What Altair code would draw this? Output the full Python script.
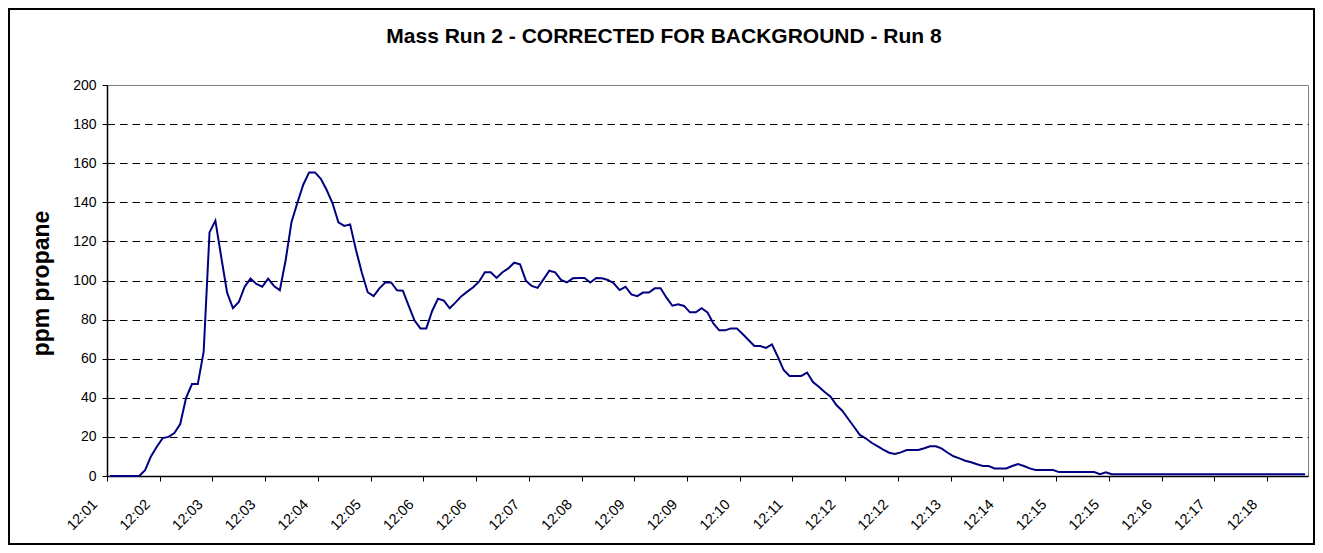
import altair as alt
import pandas as pd

# ppm propane, one reading per category (5 s apart)
ppm = [
    0, 0, 0, 0, 0, 0, 3, 10, 15, 19.4,
    20, 22, 26.6, 40, 47, 47, 63.6, 124.6, 130.6, 112,
    93.8, 85.8, 89, 96.8, 101, 98.2, 96.8, 101, 97.2, 95,
    110.5, 130, 139.8, 149, 155.3, 155.3, 152, 146.3, 139.5, 129.8,
    127.9, 128.7, 115.6, 104, 94, 92, 96, 99, 99, 95,
    94.8, 87, 79.5, 75.5, 75.5, 84.4, 90.7, 89.7, 85.8, 88.8,
    92, 94.3, 96.5, 99.4, 104.2, 104.2, 101.3, 104.2, 106.2, 109.1,
    108.3, 99.9, 97.2, 96.2, 100.6, 105, 104.2, 100.3, 99, 101.1,
    101.3, 101.3, 99, 101.3, 101.1, 100.3, 98.6, 95.1, 96.8, 92.9,
    92, 93.8, 93.8, 96, 96, 91.2, 87.1, 87.8, 87, 83.7,
    83.7, 85.8, 83.7, 78, 74.5, 74.5, 75.5, 75.5, 72.6, 69.6,
    66.5, 66.5, 65.5, 67.3, 61, 54.2, 51.2, 51.2, 51.2, 52.9,
    48.1, 45.7, 43, 40.6, 36.3, 33.4, 29.3, 25.2, 21, 19.3,
    17, 15.3, 13.5, 11.9, 11.3, 12.1, 13.3, 13.3, 13.3, 14.2,
    15.2, 15.2, 14, 11.9, 10.1, 9, 7.8, 7, 6, 5.1,
    5.1, 3.9, 3.9, 3.9, 5.1, 6.1, 5.1, 3.9, 3.1, 3.1,
    3.1, 3.1, 2, 2, 2, 2, 2, 2, 2, 0.9,
    1.9, 0.9, 0.9, 0.9, 0.9, 0.9, 0.9, 0.9, 0.9, 0.9,
    0.9, 0.9, 0.9, 0.9, 0.9, 0.9, 0.9, 0.9, 0.9, 0.9,
    0.9, 0.9, 0.9, 0.9, 0.9, 0.9, 0.9, 0.9, 0.9, 0.9,
    0.9, 0.9, 0.9, 0.9, 0.9,
]

# category-axis labels, one every 9 readings
time_labels = [
    "12:01", "12:02", "12:03", "12:03", "12:04", "12:05", "12:06", "12:06",
    "12:07", "12:08", "12:09", "12:09", "12:10", "12:11", "12:12", "12:12",
    "12:13", "12:14", "12:15", "12:15", "12:16", "12:17", "12:18",
]
label_step = 9
y_ticks = list(range(0, 201, 20))
chart_title = "Mass Run 2 - CORRECTED FOR BACKGROUND - Run 8"

n = len(ppm)
df = pd.DataFrame({"pos": [i + 0.5 for i in range(n)], "ppm": ppm})
tick_vals = [k * label_step for k in range(len(time_labels))]
label_expr = "[" + ",".join(f"'{t}'" for t in time_labels) + "][round(datum.value / %d)]" % label_step

FONT = "Liberation Sans"
W, H = 1201, 391

line = alt.Chart(df).mark_line(color="#000080", strokeWidth=2, clip=False).encode(
    x=alt.X(
        "pos:Q",
        scale=alt.Scale(domain=[0, n], nice=False, zero=False),
        axis=alt.Axis(
            values=tick_vals,
            labelExpr=label_expr,
            labelAngle=315,
            labelAlign="right",
            labelBaseline="middle",
            labelPadding=21,
            labelOffset=-12,
            labelOverlap=False,
            labelFlush=False,
            labelBound=False,
            labelFontSize=14.5,
            labelFont=FONT,
            labelColor="#000000",
            tickSize=5,
            tickColor="#000000",
            domainColor="#000000",
            domainWidth=1.5,
            grid=False,
            title=None,
        ),
    ),
    y=alt.Y(
        "ppm:Q",
        scale=alt.Scale(domain=[0, 200], nice=False),
        axis=alt.Axis(
            values=y_ticks,
            labelFontSize=14,
            labelFont=FONT,
            labelColor="#000000",
            labelPadding=6,
            tickSize=5,
            tickColor="#000000",
            domainColor="#000000",
            domainWidth=1.5,
            grid=True,
            gridColor="#000000",
            gridDash=[7.5, 5],
            gridWidth=1,
            gridOpacity={"condition": {"test": "datum.value >= 200 || datum.value <= 0", "value": 0}, "value": 1},
            title="ppm propane",
            titleFont=FONT,
            titleFontSize=23,
            titleFontWeight="bold",
            titleColor="#000000",
            titleAngle=270,
            titleX=-66,
            titleY=198,
            titleAlign="center",
            titleBaseline="middle",
        ),
    ),
)

title = alt.Chart(pd.DataFrame({"t": [chart_title]})).mark_text(
    font=FONT, fontSize=21, fontWeight="bold", color="#000000",
    align="center", baseline="alphabetic", clip=False
).encode(text="t:N", x=alt.value(557), y=alt.value(-42))

frame = alt.Chart(pd.DataFrame({"a": [0]})).mark_rect(
    filled=False, stroke="#000000", strokeWidth=2, clip=False
).encode(
    x=alt.value(-98), x2=alt.value(1207), y=alt.value(-76), y2=alt.value(459)
)

chart = (
    alt.layer(line, title, frame)
    .properties(
        width=W,
        height=H,
        autosize=alt.AutoSizeParams(type="none"),
        padding={"left": 99, "top": 77, "right": 7, "bottom": 69},
        background="#ffffff",
    )
    .configure_view(stroke="#808080", strokeWidth=1)
)

chart.save("out.html", embed_options={"renderer": "svg", "actions": False})
